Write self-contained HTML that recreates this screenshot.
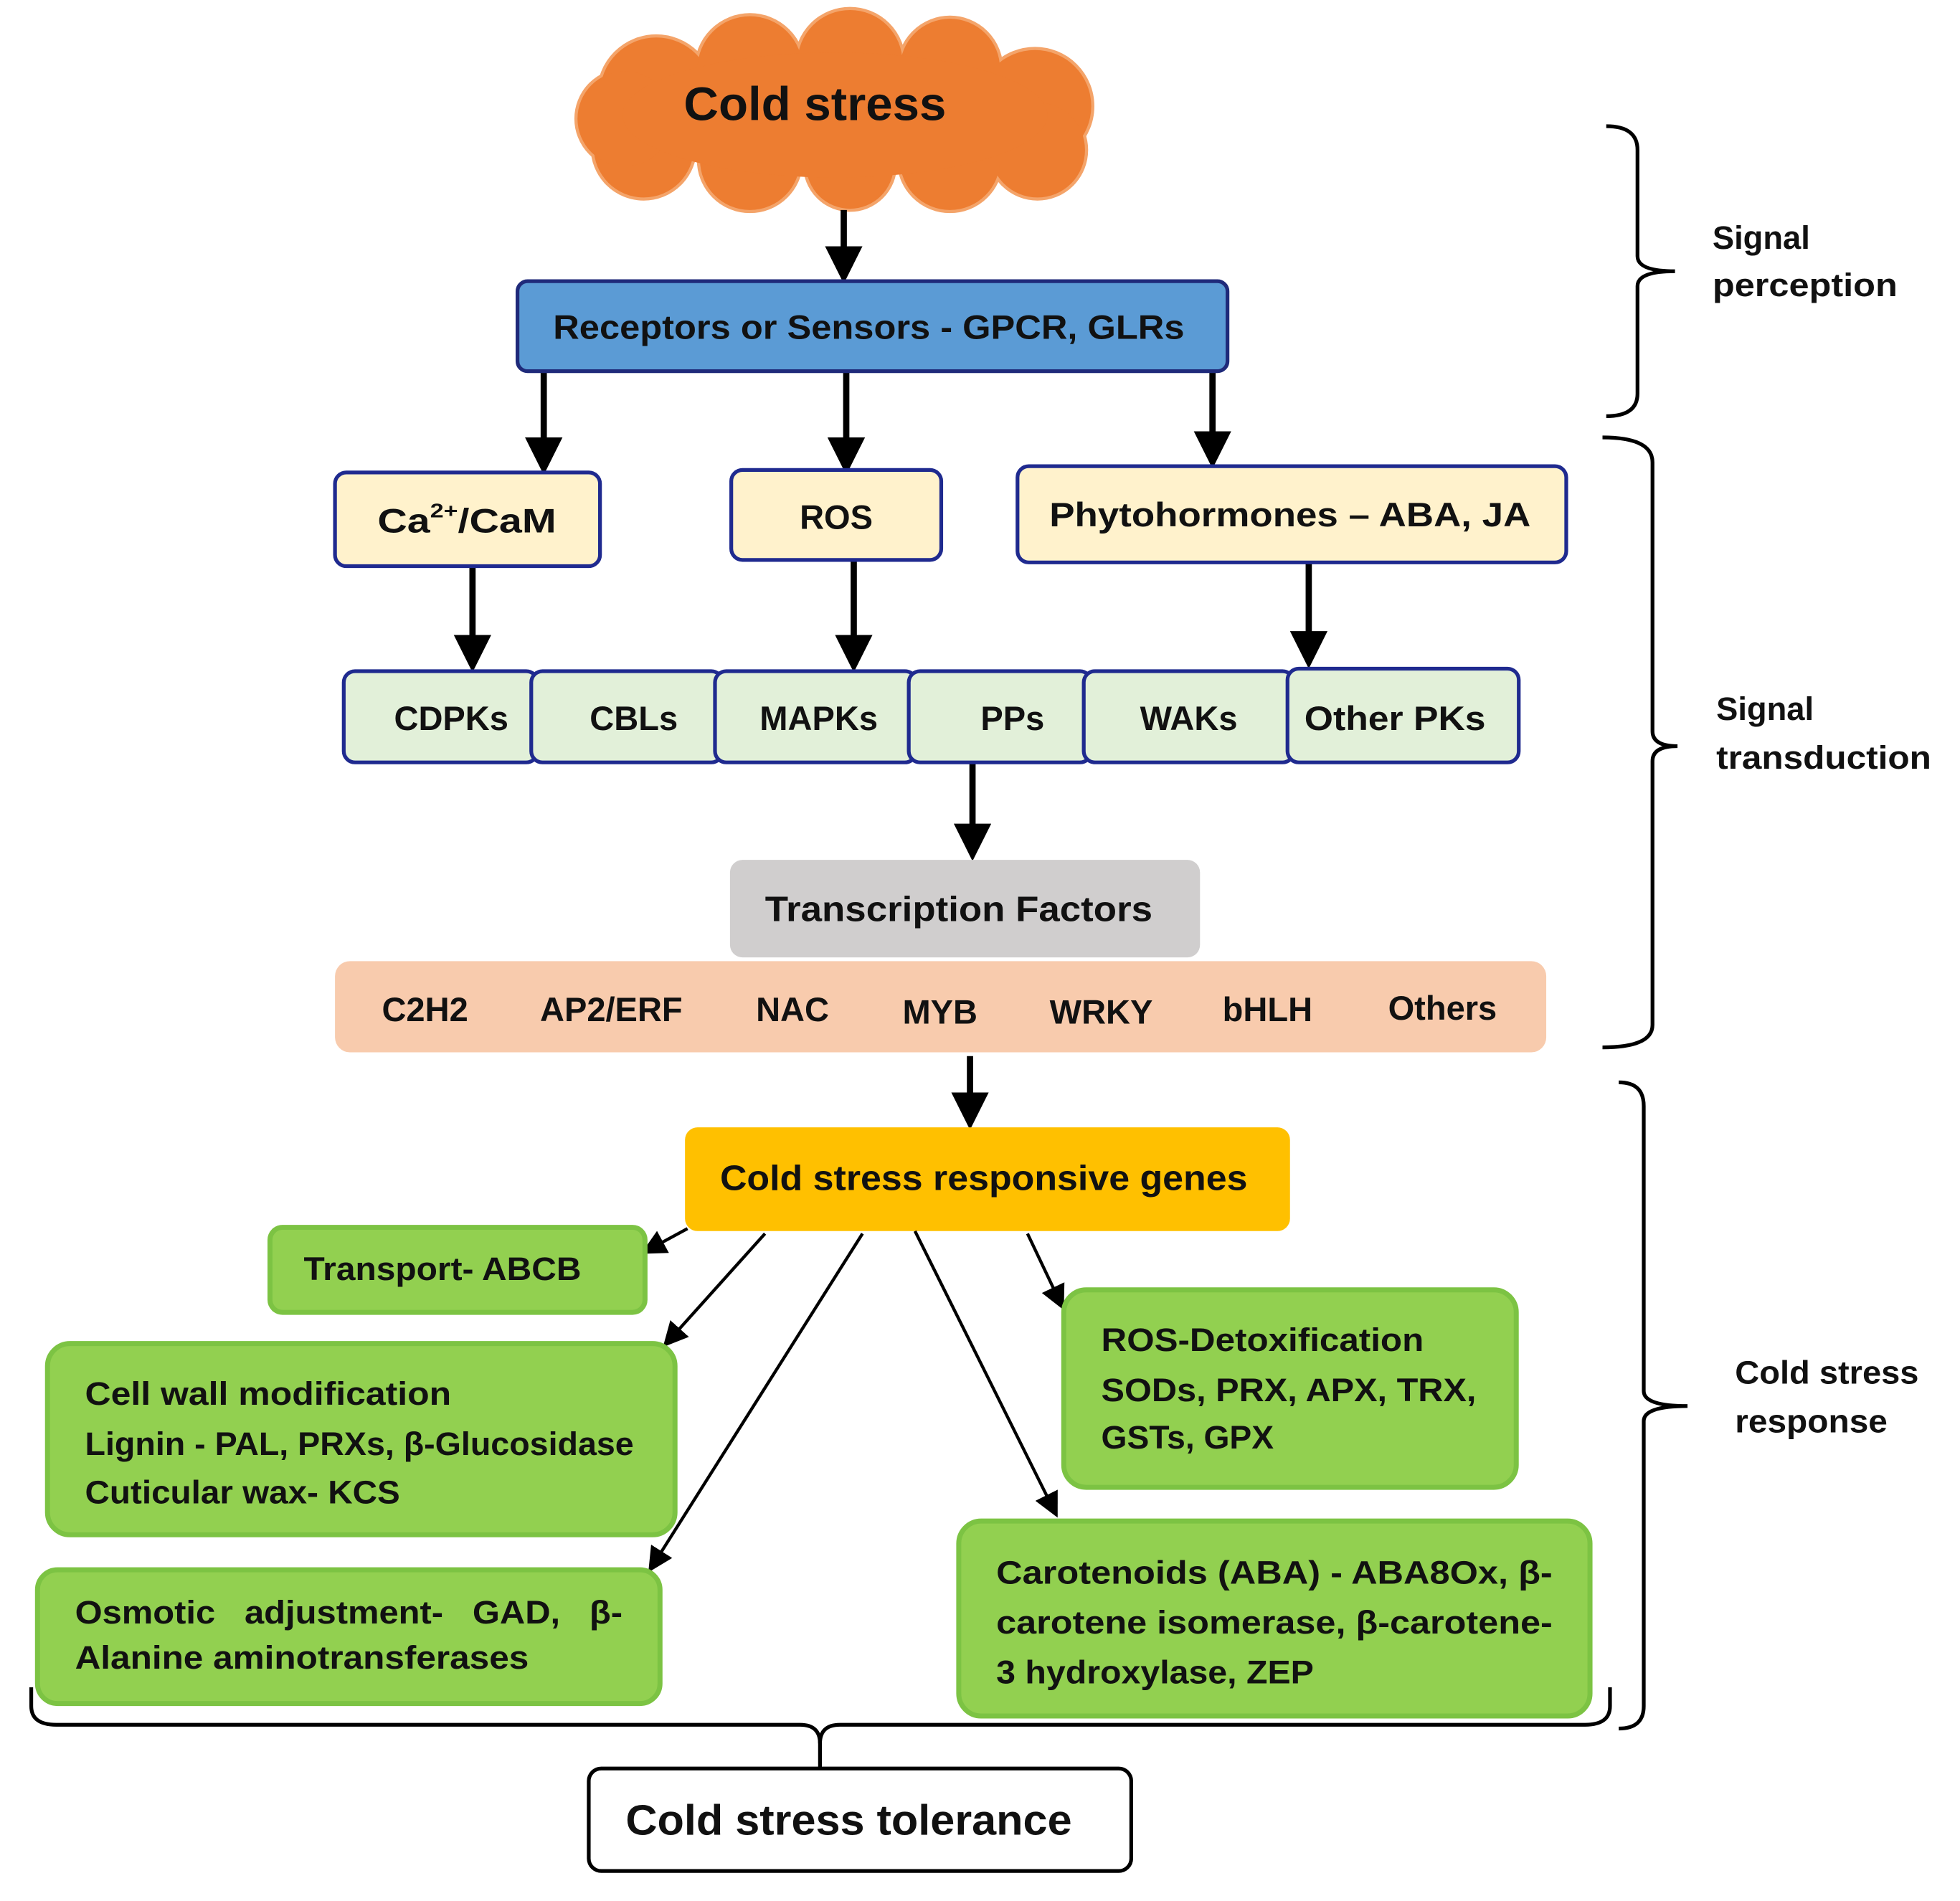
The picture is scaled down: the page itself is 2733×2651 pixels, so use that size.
<!DOCTYPE html>
<html><head><meta charset="utf-8"><style>
html,body{margin:0;padding:0;background:#fff;}
svg{display:block;}
text{font-family:"Liberation Sans",sans-serif;font-weight:bold;fill:#111;}
</style></head><body>
<svg width="2733" height="2651" viewBox="0 0 1568 1521" preserveAspectRatio="none" xmlns="http://www.w3.org/2000/svg">
<defs>
<marker id="ah" markerWidth="6" markerHeight="6" refX="5" refY="3" orient="auto" markerUnits="strokeWidth"><path d="M0,0 L6,3 L0,6 z" fill="#000"/></marker>
<marker id="ah2" markerWidth="8" markerHeight="8" refX="7" refY="4" orient="auto" markerUnits="strokeWidth"><path d="M0,0 L8,4 L0,8 z" fill="#000"/></marker>
</defs>
<g fill="#ED7D31" stroke="#F4A46A" stroke-width="5">
<circle cx="525" cy="75" r="45"/><circle cx="600" cy="55" r="42"/><circle cx="680" cy="50" r="42"/><circle cx="760" cy="55" r="40"/><circle cx="828" cy="85" r="45"/><circle cx="830" cy="120" r="38"/><circle cx="760" cy="128" r="40"/><circle cx="680" cy="132" r="35"/><circle cx="600" cy="128" r="40"/><circle cx="515" cy="118" r="40"/><circle cx="500" cy="95" r="38"/>
</g>
<g fill="#ED7D31">
<circle cx="525" cy="75" r="45"/><circle cx="600" cy="55" r="42"/><circle cx="680" cy="50" r="42"/><circle cx="760" cy="55" r="40"/><circle cx="828" cy="85" r="45"/><circle cx="830" cy="120" r="38"/><circle cx="760" cy="128" r="40"/><circle cx="680" cy="132" r="35"/><circle cx="600" cy="128" r="40"/><circle cx="515" cy="118" r="40"/><circle cx="500" cy="95" r="38"/>
<ellipse cx="668" cy="92" rx="170" ry="50"/>
</g>
<text x="652" y="96" font-size="38" text-anchor="middle" textLength="210" lengthAdjust="spacingAndGlyphs">Cold stress</text>

<g stroke="#000" stroke-width="5" marker-end="url(#ah)">
<line x1="675" y1="168" x2="675" y2="222"/>
<line x1="435" y1="297" x2="435" y2="375"/>
<line x1="677" y1="297" x2="677" y2="375"/>
<line x1="970" y1="297" x2="970" y2="370"/>
<line x1="378" y1="453" x2="378" y2="533"/>
<line x1="683" y1="448" x2="683" y2="533"/>
<line x1="1047" y1="450" x2="1047" y2="530"/>
<line x1="778" y1="610" x2="778" y2="684"/>
<line x1="776" y1="845" x2="776" y2="899"/>
</g>

<rect x="414" y="225" width="568" height="72" rx="8" fill="#5B9BD5" stroke="#1F2A7A" stroke-width="3"/>
<text x="695" y="271" font-size="27" text-anchor="middle" textLength="505" lengthAdjust="spacingAndGlyphs">Receptors or Sensors - GPCR, GLRs</text>

<g fill="#FFF2CC" stroke="#1F2A8F" stroke-width="3">
<rect x="268" y="378" width="212" height="75" rx="9"/>
<rect x="585" y="376" width="168" height="72" rx="9"/>
<rect x="814" y="373" width="439" height="77" rx="9"/>
</g>
<text x="302" y="426" font-size="27" textLength="143" lengthAdjust="spacingAndGlyphs">Ca<tspan font-size="16" dy="-12">2+</tspan><tspan dy="12">/CaM</tspan></text>
<text x="669" y="423" font-size="27" text-anchor="middle">ROS</text>
<text x="1032" y="421" font-size="27" text-anchor="middle" textLength="385" lengthAdjust="spacingAndGlyphs">Phytohormones – ABA, JA</text>

<g fill="#E2F0D9" stroke="#1F2A8F" stroke-width="3">
<rect x="275" y="537" width="155" height="73" rx="9"/>
<rect x="425" y="537" width="153" height="73" rx="9"/>
<rect x="572" y="537" width="161" height="73" rx="9"/>
<rect x="727" y="537" width="146" height="73" rx="9"/>
<rect x="867" y="537" width="168" height="73" rx="9"/>
<rect x="1030" y="535" width="185" height="75" rx="9"/>
</g>
<g font-size="27" text-anchor="middle">
<text x="361" y="584">CDPKs</text><text x="507" y="584">CBLs</text><text x="655" y="584">MAPKs</text><text x="810" y="584">PPs</text><text x="951" y="584">WAKs</text><text x="1116" y="584" textLength="145" lengthAdjust="spacingAndGlyphs">Other PKs</text>
</g>

<rect x="584" y="688" width="376" height="78" rx="10" fill="#D0CECE"/>
<text x="767" y="737" font-size="28" text-anchor="middle" textLength="310" lengthAdjust="spacingAndGlyphs">Transcription Factors</text>

<rect x="268" y="769" width="969" height="73" rx="12" fill="#F8CBAD"/>
<g font-size="27" text-anchor="middle">
<text x="340" y="817">C2H2</text><text x="489" y="817">AP2/ERF</text><text x="634" y="817">NAC</text><text x="752" y="819">MYB</text><text x="881" y="819">WRKY</text><text x="1014" y="817">bHLH</text><text x="1154" y="816">Others</text>
</g>

<rect x="548" y="902" width="484" height="83" rx="10" fill="#FFC000"/>
<text x="787" y="952" font-size="28" text-anchor="middle" textLength="422" lengthAdjust="spacingAndGlyphs">Cold stress responsive genes</text>

<g stroke="#000" stroke-width="2.5" marker-end="url(#ah2)">
<line x1="550" y1="983" x2="515" y2="1002"/>
<line x1="612" y1="987" x2="532" y2="1076"/>
<line x1="690" y1="987" x2="520" y2="1256"/>
<line x1="732" y1="985" x2="845" y2="1212"/>
<line x1="822" y1="987" x2="850" y2="1046"/>
</g>

<g fill="#92D050" stroke="#7CC343" stroke-width="4">
<rect x="216" y="982" width="300" height="68" rx="10"/>
<rect x="38" y="1075" width="502" height="153" rx="18"/>
<rect x="30" y="1256" width="498" height="107" rx="16"/>
<rect x="851" y="1032" width="362" height="158" rx="18"/>
<rect x="767" y="1217" width="505" height="156" rx="18"/>
</g>
<g font-size="26">
<text x="243" y="1024" textLength="222" lengthAdjust="spacingAndGlyphs">Transport- ABCB</text>
<text x="68" y="1124" textLength="293" lengthAdjust="spacingAndGlyphs">Cell wall modification</text>
<text x="68" y="1164" textLength="439" lengthAdjust="spacingAndGlyphs">Lignin - PAL, PRXs, β-Glucosidase</text>
<text x="68" y="1203" textLength="252" lengthAdjust="spacingAndGlyphs">Cuticular wax- KCS</text>
<text x="60" y="1299" textLength="438" lengthAdjust="spacingAndGlyphs" xml:space="preserve">Osmotic   adjustment-   GAD,   β-</text>
<text x="60" y="1335" textLength="363" lengthAdjust="spacingAndGlyphs">Alanine aminotransferases</text>
<text x="881" y="1081" textLength="258" lengthAdjust="spacingAndGlyphs">ROS-Detoxification</text>
<text x="881" y="1121" textLength="300" lengthAdjust="spacingAndGlyphs">SODs, PRX, APX, TRX,</text>
<text x="881" y="1159" textLength="138" lengthAdjust="spacingAndGlyphs">GSTs, GPX</text>
<text x="797" y="1267" textLength="445" lengthAdjust="spacingAndGlyphs">Carotenoids (ABA) - ABA8Ox, β-</text>
<text x="797" y="1307" textLength="445" lengthAdjust="spacingAndGlyphs">carotene isomerase, β-carotene-</text>
<text x="797" y="1347" textLength="254" lengthAdjust="spacingAndGlyphs">3 hydroxylase, ZEP</text>
</g>

<g fill="none" stroke="#000" stroke-width="3">
<path d="M1285,101 Q1310,101 1310,120 L1310,205 Q1310,217 1340,217 Q1310,217 1310,229 L1310,315 Q1310,333 1285,333"/>
<path d="M1282,350 Q1322,350 1322,370 L1322,585 Q1322,597 1342,597 Q1322,597 1322,609 L1322,820 Q1322,838 1282,838"/>
<path d="M1295,866 Q1315,866 1315,885 L1315,1113 Q1315,1125 1350,1125 Q1315,1125 1315,1137 L1315,1365 Q1315,1383 1295,1383"/>
<path d="M25,1350 L25,1365 Q25,1380 45,1380 L640,1380 Q656,1380 656,1395 Q656,1380 672,1380 L1268,1380 Q1288,1380 1288,1365 L1288,1350"/>
<line x1="656" y1="1393" x2="656" y2="1416"/>
</g>
<g font-size="26">
<text x="1370" y="199">Signal</text><text x="1370" y="237" textLength="148" lengthAdjust="spacingAndGlyphs">perception</text>
<text x="1373" y="576">Signal</text><text x="1373" y="615" textLength="172" lengthAdjust="spacingAndGlyphs">transduction</text>
<text x="1388" y="1107" textLength="147" lengthAdjust="spacingAndGlyphs">Cold stress</text><text x="1388" y="1146" textLength="122" lengthAdjust="spacingAndGlyphs">response</text>
</g>

<rect x="471" y="1415" width="434" height="82" rx="10" fill="#fff" stroke="#000" stroke-width="3"/>
<text x="679" y="1468" font-size="34" text-anchor="middle" textLength="357" lengthAdjust="spacingAndGlyphs">Cold stress tolerance</text>
</svg>
</body></html>
